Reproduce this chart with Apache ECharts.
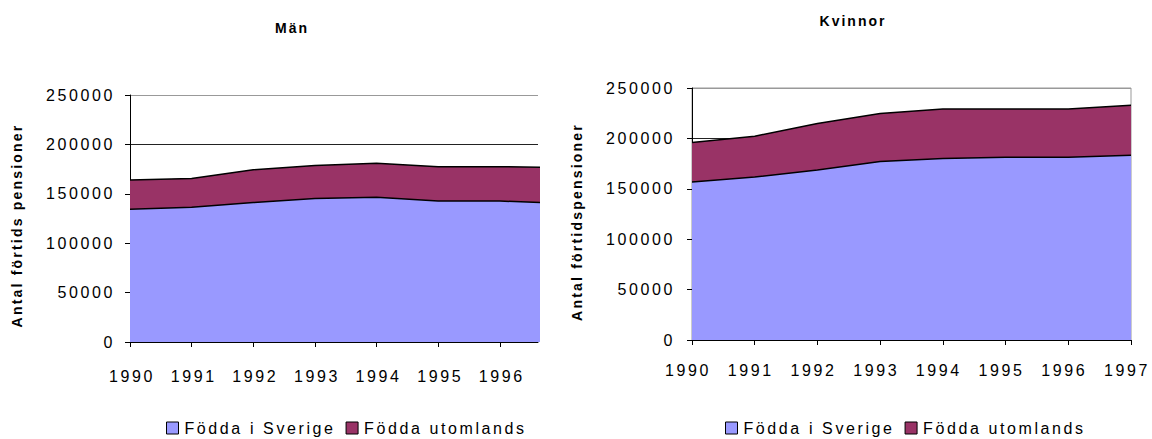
<!DOCTYPE html>
<html>
<head>
<meta charset="utf-8">
<script src="https://cdn.jsdelivr.net/npm/echarts@6/dist/echarts.min.js"></script>
<style>
html,body{margin:0;padding:0;background:#fff;}
#c{width:1152px;height:439px;}
#c text{letter-spacing:2.6px;}
</style>
</head>
<body>
<div id="c"></div>
<script>
const years = [1990, 1991, 1992, 1993, 1994, 1995, 1996, 1997];
const manSverige = [134400, 136400, 141100, 145200, 146500, 142700, 142700, 140400];
const manUtomlands = [29500, 29200, 33300, 33500, 34500, 34700, 34700, 36300];
const kvinnorSverige = [156700, 161700, 168600, 177200, 180100, 181400, 181400, 183400];
const kvinnorUtomlands = [39300, 40500, 46100, 47400, 49100, 47800, 47800, 49400];
const yTicks = [0, 50000, 100000, 150000, 200000, 250000];
const titles = ['Män', 'Kvinnor'];
const seriesNames = ['Födda i Sverige', 'Födda utomlands'];
const yAxisTitle = 'Antal förtids pensioner';
const yAxisTitle2 = 'Antal förtidspensioner';

const FONT = 'Liberation Sans, Arial, sans-serif';
// stacked: the upper band is drawn from the cumulative sum
const pair = (xs, ys) => xs.map((x, i) => [x, ys[i]]);
const sum = (a, b) => a.map((v, i) => v + b[i]);

function xAxisCfg(gridIndex, max, margin, pad) {
  return {
    type: 'value', gridIndex, min: 1990, max, interval: 1,
    axisLine: {show: true, lineStyle: {color: '#000', width: 1}},
    axisTick: {show: true, length: 5, lineStyle: {color: '#000'}},
    axisLabel: {color: '#000', fontFamily: FONT, fontSize: 16, margin, showMaxLabel: max === 1997,
      padding: pad,
      formatter: v => (Number.isInteger(v) ? String(v) : '')},
    splitLine: {show: false}
  };
}
function yAxisCfg(gridIndex, name, gap, shift, labelMargin) {
  return {
    type: 'value', gridIndex, min: yTicks[0], max: yTicks[yTicks.length - 1], interval: 50000,
    name, nameLocation: 'middle', nameGap: gap, nameRotate: 90,
    nameTextStyle: {color: '#000', fontFamily: FONT, fontSize: 14, fontWeight: 'bold', padding: [0, shift, 0, 0]},
    axisLine: {show: true, lineStyle: {color: '#000', width: 1}},
    axisTick: {show: true, length: 5, lineStyle: {color: '#000'}},
    axisLabel: {color: '#000', fontFamily: FONT, fontSize: 16, margin: labelMargin, formatter: v => String(v)},
    splitLine: {show: true, lineStyle: {color: ['#000', '#000', '#000', '#000', '#222', '#999'], width: 1}}
  };
}
function areaSeries(name, data, xi, color, z) {
  return {
    name, type: 'line', xAxisIndex: xi, yAxisIndex: xi, data, z,
    symbol: 'none', clip: true,
    lineStyle: {color: '#000', width: 1.5},
    areaStyle: {color: color, opacity: 1},
    itemStyle: {color: color, borderColor: '#000', borderWidth: 1},
    emphasis: {disabled: true}
  };
}
const legendCfg = left => ({
  left, top: 415, itemWidth: 12, itemHeight: 12, itemGap: 49, icon: 'rect',
  data: seriesNames.map(n => ({name: n, itemStyle: {borderColor: '#000', borderWidth: 1}})),
  textStyle: {fontFamily: FONT, fontSize: 16, color: '#000', padding: [0, 0, 0, 1]}
});

const el = document.getElementById('c');
const chart = echarts.init(el, null, {renderer: 'svg'});
chart.setOption({
  animation: false,
  backgroundColor: '#fff',
  title: [
    {text: titles[0], left: 287, top: 16, textAlign: 'center',
      textStyle: {fontFamily: FONT, fontSize: 14, fontWeight: 'bold', color: '#000'}},
    {text: titles[1], left: 848, top: 9, textAlign: 'center',
      textStyle: {fontFamily: FONT, fontSize: 14, fontWeight: 'bold', color: '#000'}}
  ],
  legend: [legendCfg(161), legendCfg(720)],
  grid: [
    {left: 130, top: 95, width: 408, height: 247, show: false},
    {left: 692, top: 88, width: 439, height: 252, show: true, borderColor: '#999', borderWidth: 1, backgroundColor: 'transparent'}
  ],
  xAxis: [xAxisCfg(0, 1996.62, 26, [0, 0, 0, 4]), xAxisCfg(1, 1997, 22, [0, 8, 0, 0])],
  yAxis: [yAxisCfg(0, yAxisTitle, 106, 14, 15), yAxisCfg(1, yAxisTitle2, 108, 16, 17)],
  series: [
    areaSeries(seriesNames[1], pair(years, sum(manSverige, manUtomlands)), 0, '#993366', 2),
    areaSeries(seriesNames[0], pair(years, manSverige), 0, '#9999FF', 3),
    areaSeries(seriesNames[1], pair(years, sum(kvinnorSverige, kvinnorUtomlands)), 1, '#993366', 2),
    areaSeries(seriesNames[0], pair(years, kvinnorSverige), 1, '#9999FF', 3)
  ]
});

// finer letter spacing for the bold texts (titles and axis names)
function tuneSpacing() {
  el.querySelectorAll('text').forEach(t => {
    const s = t.textContent;
    if (s === yAxisTitle || s === yAxisTitle2) t.style.letterSpacing = '2.2px';
    else if (titles.includes(s)) t.style.letterSpacing = '2px';
  });
}
chart.on('finished', tuneSpacing);
tuneSpacing();
setTimeout(tuneSpacing, 50);
</script>
</body>
</html>
